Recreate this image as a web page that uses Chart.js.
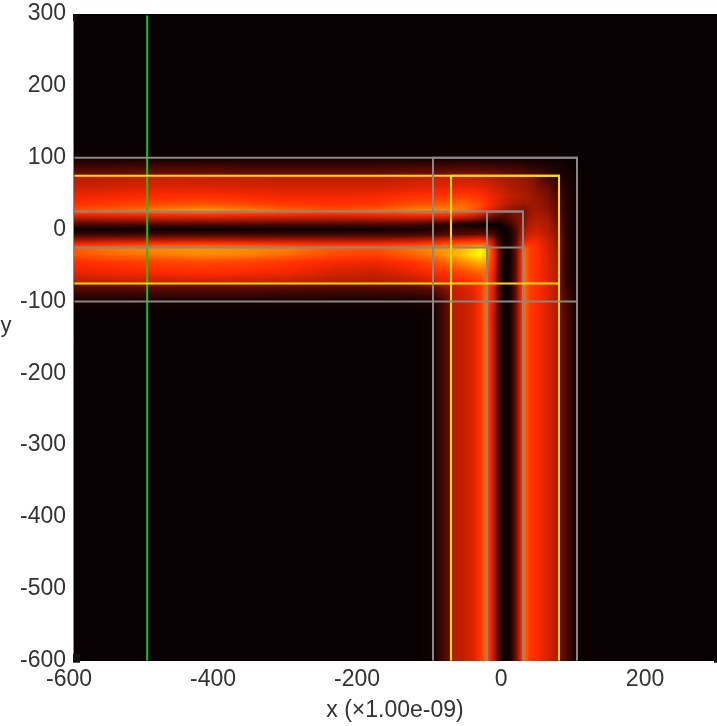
<!DOCTYPE html>
<html>
<head>
<meta charset="utf-8">
<title>Field intensity</title>
<script src="https://cdn.jsdelivr.net/npm/chart.js@4/dist/chart.umd.min.js"></script>
<style>
    html, body { margin: 0; padding: 0; background: #fff; overflow: hidden; }
    #wrap { position: relative; width: 717px; height: 726px; }
</style>
</head>
<body>
<div id="wrap"><canvas id="chart"></canvas></div>
<script>
const xTicks = [-600, -400, -200, 0, 200];
const yTicks = [300, 200, 100, 0, -100, -200, -300, -400, -500, -600];

// sample positions of the intensity table
const xs = [-598, -540, -480, -420, -360, -300, -240, -180, -130, -100, -85, -77, -73, -60, -45, -35, -27, -22, -15, -7, 0, 7, 15, 22, 27, 35, 45, 60, 73, 77, 85, 100, 120, 294];
const ys = [300, 120, 100, 85, 77, 73, 60, 45, 35, 27, 22, 15, 7, 0, -7, -15, -22, -27, -35, -45, -60, -73, -77, -85, -100, -120, -600];

// intensity, one row per ys entry
const intensity = [
    [0,0,0,0,0,0,0,0,0,0,0,0,0,0,0,0,0,0,0,0,0,0,0,0,0,0,0,0,0,0,0,0,0,0],
    [0,0,0,0,0,0,0,0,0,0,0,0,0,0,0,0,0,0,0,0,0,0,0,0,0,0,0,0,0,0,0,0,0,0],
    [1,1,1,1,1,1,1,1,1,1,1,1,1,1,1,1,1,1,1,1,1,1,1,1,1,1,1,1,1,1,0,0,0,0],
    [12,12,13,13,12,12,12,12,13,13,13,13,13,14,14,14,13,13,13,12,11,11,10,10,9,8,7,5,3,3,2,0,0,0],
    [18,18,19,19,18,18,18,18,19,19,19,20,20,20,20,20,20,20,19,18,17,16,15,15,14,13,11,8,5,4,3,1,0,0],
    [31,32,34,34,33,32,32,32,33,34,34,34,34,34,34,33,32,31,30,29,28,27,26,25,25,23,18,10,6,5,3,1,0,0],
    [35,36,38,38,37,36,36,36,38,39,39,39,39,40,40,39,38,37,35,34,32,30,29,28,27,25,21,17,9,7,4,1,0,0],
    [42,44,46,47,45,43,43,44,47,48,49,50,50,52,50,48,45,43,41,38,35,33,31,30,29,28,25,20,13,10,5,1,0,0],
    [47,50,54,57,53,49,47,48,55,57,59,60,60,62,58,54,48,44,40,36,33,30,28,27,26,27,26,22,15,11,5,1,0,0],
    [55,60,68,74,68,60,56,60,68,70,70,68,68,66,60,52,45,40,35,31,28,25,23,22,21,26,27,24,16,12,5,1,0,0],
    [46,48,50,52,50,48,46,48,51,52,50,50,50,48,44,38,33,29,24,20,17,18,21,22,20,27,29,25,17,13,6,1,0,0],
    [28,30,31,32,31,30,29,30,31,30,30,29,29,28,25,21,18,16,12,10,12,15,20,23,22,28,31,27,18,14,6,1,0,0],
    [12,12,13,13,13,12,12,12,12,8,7,5,5,3,1,0,0,0,0,1,5,9,17,24,24,30,33,29,20,15,6,1,0,0],
    [0,0,0,0,0,0,0,1,2,4,6,8,8,8,8,8,8,7,5,2,0,4,13,25,28,33,35,30,22,16,6,1,0,0],
    [10,10,11,11,11,10,10,10,11,12,13,14,14,15,16,17,17,15,11,3,0,2,12,27,30,36,38,32,24,17,6,1,0,0],
    [28,30,31,32,31,30,29,29,31,34,38,40,40,42,44,46,42,36,24,6,0,2,13,30,38,42,42,34,26,18,7,1,0,0],
    [48,52,56,58,56,52,50,50,54,58,60,60,60,63,66,68,62,50,30,9,1,2,15,36,52,48,45,35,27,18,7,1,0,0],
    [58,66,70,72,70,66,58,56,64,70,72,74,76,80,88,98,88,64,40,12,1,2,16,40,62,50,46,36,28,18,7,1,0,0],
    [56,62,66,70,68,62,54,51,60,68,72,76,78,84,94,100,90,62,44,12,1,2,16,42,64,50,46,37,29,18,7,1,0,0],
    [46,49,52,54,52,48,44,42,48,55,60,63,64,70,76,80,76,58,42,11,0,2,16,42,64,50,46,37,30,18,7,1,0,0],
    [40,42,44,45,44,42,37,35,40,45,47,48,49,53,57,60,62,52,38,10,0,2,17,42,64,50,46,38,30,18,7,1,0,0],
    [32,33,34,35,34,33,31,30,32,36,38,40,41,44,47,50,60,50,36,10,0,2,17,42,64,50,46,38,30,18,7,1,0,0],
    [18,18,19,19,19,18,17,17,18,22,26,30,33,38,42,47,60,50,36,10,0,2,17,42,64,50,46,38,30,18,7,1,0,0],
    [12,12,13,13,13,12,11,11,12,14,20,22,33,36,40,48,62,48,34,10,0,2,17,42,63,50,46,38,30,18,10,1,0,0],
    [2,2,2,2,2,2,2,2,2,4,12,18,32,34,38,47,62,48,33,10,0,2,17,41,63,50,45,38,30,18,12,1,0,0],
    [0,0,0,0,0,0,0,0,0,1,12,18,31,33,38,47,62,47,30,9,0,2,18,40,62,48,45,37,30,18,13,1,0,0],
    [0,0,0,0,0,0,0,0,0,1,12,18,31,33,38,47,62,47,30,9,0,2,18,40,62,48,45,37,30,18,13,1,0,0]
];

// colour ramp for the intensity
const rampValues = [0, 15, 30, 45, 60, 75, 100];
const rampColors = [[8, 0, 2], [90, 10, 0], [176, 28, 0], [255, 42, 0], [255, 96, 0], [255, 160, 0], [255, 255, 0]];

// waveguide outlines and the monitor line
const outerH = [[-598, 100], [100, 100], [100, -100], [-598, -100]];
const outerV = [[-100, -600], [-100, 100], [100, 100], [100, -600]];
const coreH = [[-598, 75], [75, 75], [75, -75], [-598, -75]];
const coreV = [[-75, -600], [-75, 75], [75, 75], [75, -600]];
const innerH = [[-598, 25], [25, 25], [25, -25], [-598, -25]];
const innerV = [[-25, -600], [-25, 25], [25, 25], [25, -600]];
const monitor = [[-497, 298], [-497, -600]];

function lineSet(points, color) {
    return {
        data: points.map(p => ({ x: p[0], y: p[1] })),
        showLine: true,
        borderColor: color,
        borderWidth: 2,
        pointRadius: 0,
        fill: false
    };
}

function bracket(list, v, descending) {
    for (let i = 0; i < list.length - 1; i++) {
        const inside = descending ? v >= list[i + 1] : v <= list[i + 1];
        if (inside) {
            return [i, (v - list[i]) / (list[i + 1] - list[i])];
        }
    }
    return [list.length - 2, 1];
}

function rampColor(v) {
    const [i, t] = bracket(rampValues, v, false);
    const a = rampColors[i], b = rampColors[i + 1];
    return [a[0] + (b[0] - a[0]) * t, a[1] + (b[1] - a[1]) * t, a[2] + (b[2] - a[2]) * t];
}

// paints the intensity table through the chart scales
const heatPlugin = {
    id: 'heat',
    beforeDatasetsDraw(chart) {
        const { ctx, scales } = chart;
        const left = Math.round(scales.x.getPixelForValue(xs[0]));
        const right = Math.round(scales.x.right);
        const top = Math.round(scales.y.top);
        const bottom = Math.round(scales.y.bottom);
        const w = right - left, h = bottom - top;
        const img = ctx.createImageData(w, h);
        for (let py = 0; py < h; py++) {
            const [r, tr] = bracket(ys, scales.y.getValueForPixel(top + py + 0.5), true);
            for (let px = 0; px < w; px++) {
                const [c, tc] = bracket(xs, scales.x.getValueForPixel(left + px + 0.5), false);
                const upper = intensity[r][c] + (intensity[r][c + 1] - intensity[r][c]) * tc;
                const lower = intensity[r + 1][c] + (intensity[r + 1][c + 1] - intensity[r + 1][c]) * tc;
                const rgb = rampColor(upper + (lower - upper) * tr);
                const k = (py * w + px) * 4;
                img.data[k] = rgb[0];
                img.data[k + 1] = rgb[1];
                img.data[k + 2] = rgb[2];
                img.data[k + 3] = 255;
            }
        }
        ctx.putImageData(img, left, top);
    },
    afterDraw(chart) {
        const { ctx, chartArea } = chart;
        ctx.save();
        // small dark stubs the plot has at its corners
        ctx.fillStyle = '#111';
        ctx.fillRect(chartArea.left, chartArea.top, 4, 7);
        ctx.fillRect(chartArea.left, chartArea.bottom - 7, 7, 9);
        ctx.fillRect(chartArea.right - 3, chartArea.bottom, 3, 2);
        // upright y label, the axis title option would rotate it
        ctx.fillStyle = '#333';
        ctx.font = '22px "Liberation Sans"';
        ctx.textAlign = 'center';
        ctx.textBaseline = 'middle';
        ctx.fillText('y', 6, 326);
        ctx.restore();
    }
};

const canvas = document.getElementById('chart');
canvas.width = 717;
canvas.height = 726;
canvas.style.width = '717px';
canvas.style.height = '726px';

new Chart(canvas.getContext('2d'), {
    type: 'scatter',
    data: {
        datasets: [
            lineSet(outerH, '#888888'),
            lineSet(outerV, '#888888'),
            lineSet(coreH, '#ffdc00'),
            lineSet(coreV, '#ffdc00'),
            lineSet(innerH, '#888888'),
            lineSet(innerV, '#888888'),
            lineSet(monitor, '#10c810')
        ]
    },
    options: {
        responsive: false,
        animation: false,
        layout: { padding: { top: 14, right: 0, left: 0, bottom: 0 } },
        plugins: { legend: { display: false }, tooltip: { enabled: false } },
        scales: {
            x: {
                type: 'linear',
                min: -600,
                max: 294.4,
                afterBuildTicks: axis => { axis.ticks = xTicks.map(v => ({ value: v })); },
                afterFit: axis => { axis.height = 65.3; },
                grid: { display: false, drawTicks: false },
                border: { display: true, color: '#888', width: 1 },
                ticks: {
                    maxRotation: 0,
                    autoSkip: false,
                    padding: 5,
                    labelOffset: -4,
                    color: '#333',
                    font: { family: '"Liberation Sans"', size: 23 }
                },
                title: {
                    display: true,
                    text: 'x (\u00d71.00e-09)',
                    color: '#333',
                    padding: { top: 6, bottom: 2 },
                    font: { family: '"Liberation Sans"', size: 23 }
                }
            },
            y: {
                type: 'linear',
                min: -600,
                max: 300,
                afterBuildTicks: axis => { axis.ticks = yTicks.map(v => ({ value: v })); },
                afterFit: axis => {
                    axis.width = 73;
                    // let the 300 label sit at the top of the plot without extra room
                    axis.paddingTop = 0;
                    axis.paddingBottom = 0;
                },
                grid: { display: false, drawTicks: false },
                border: { display: true, color: '#888', width: 1 },
                ticks: {
                    autoSkip: false,
                    padding: 7,
                    labelOffset: 0,
                    color: '#333',
                    font: { family: '"Liberation Sans"', size: 23 }
                }
            }
        }
    },
    plugins: [heatPlugin]
});
</script>
</body>
</html>
